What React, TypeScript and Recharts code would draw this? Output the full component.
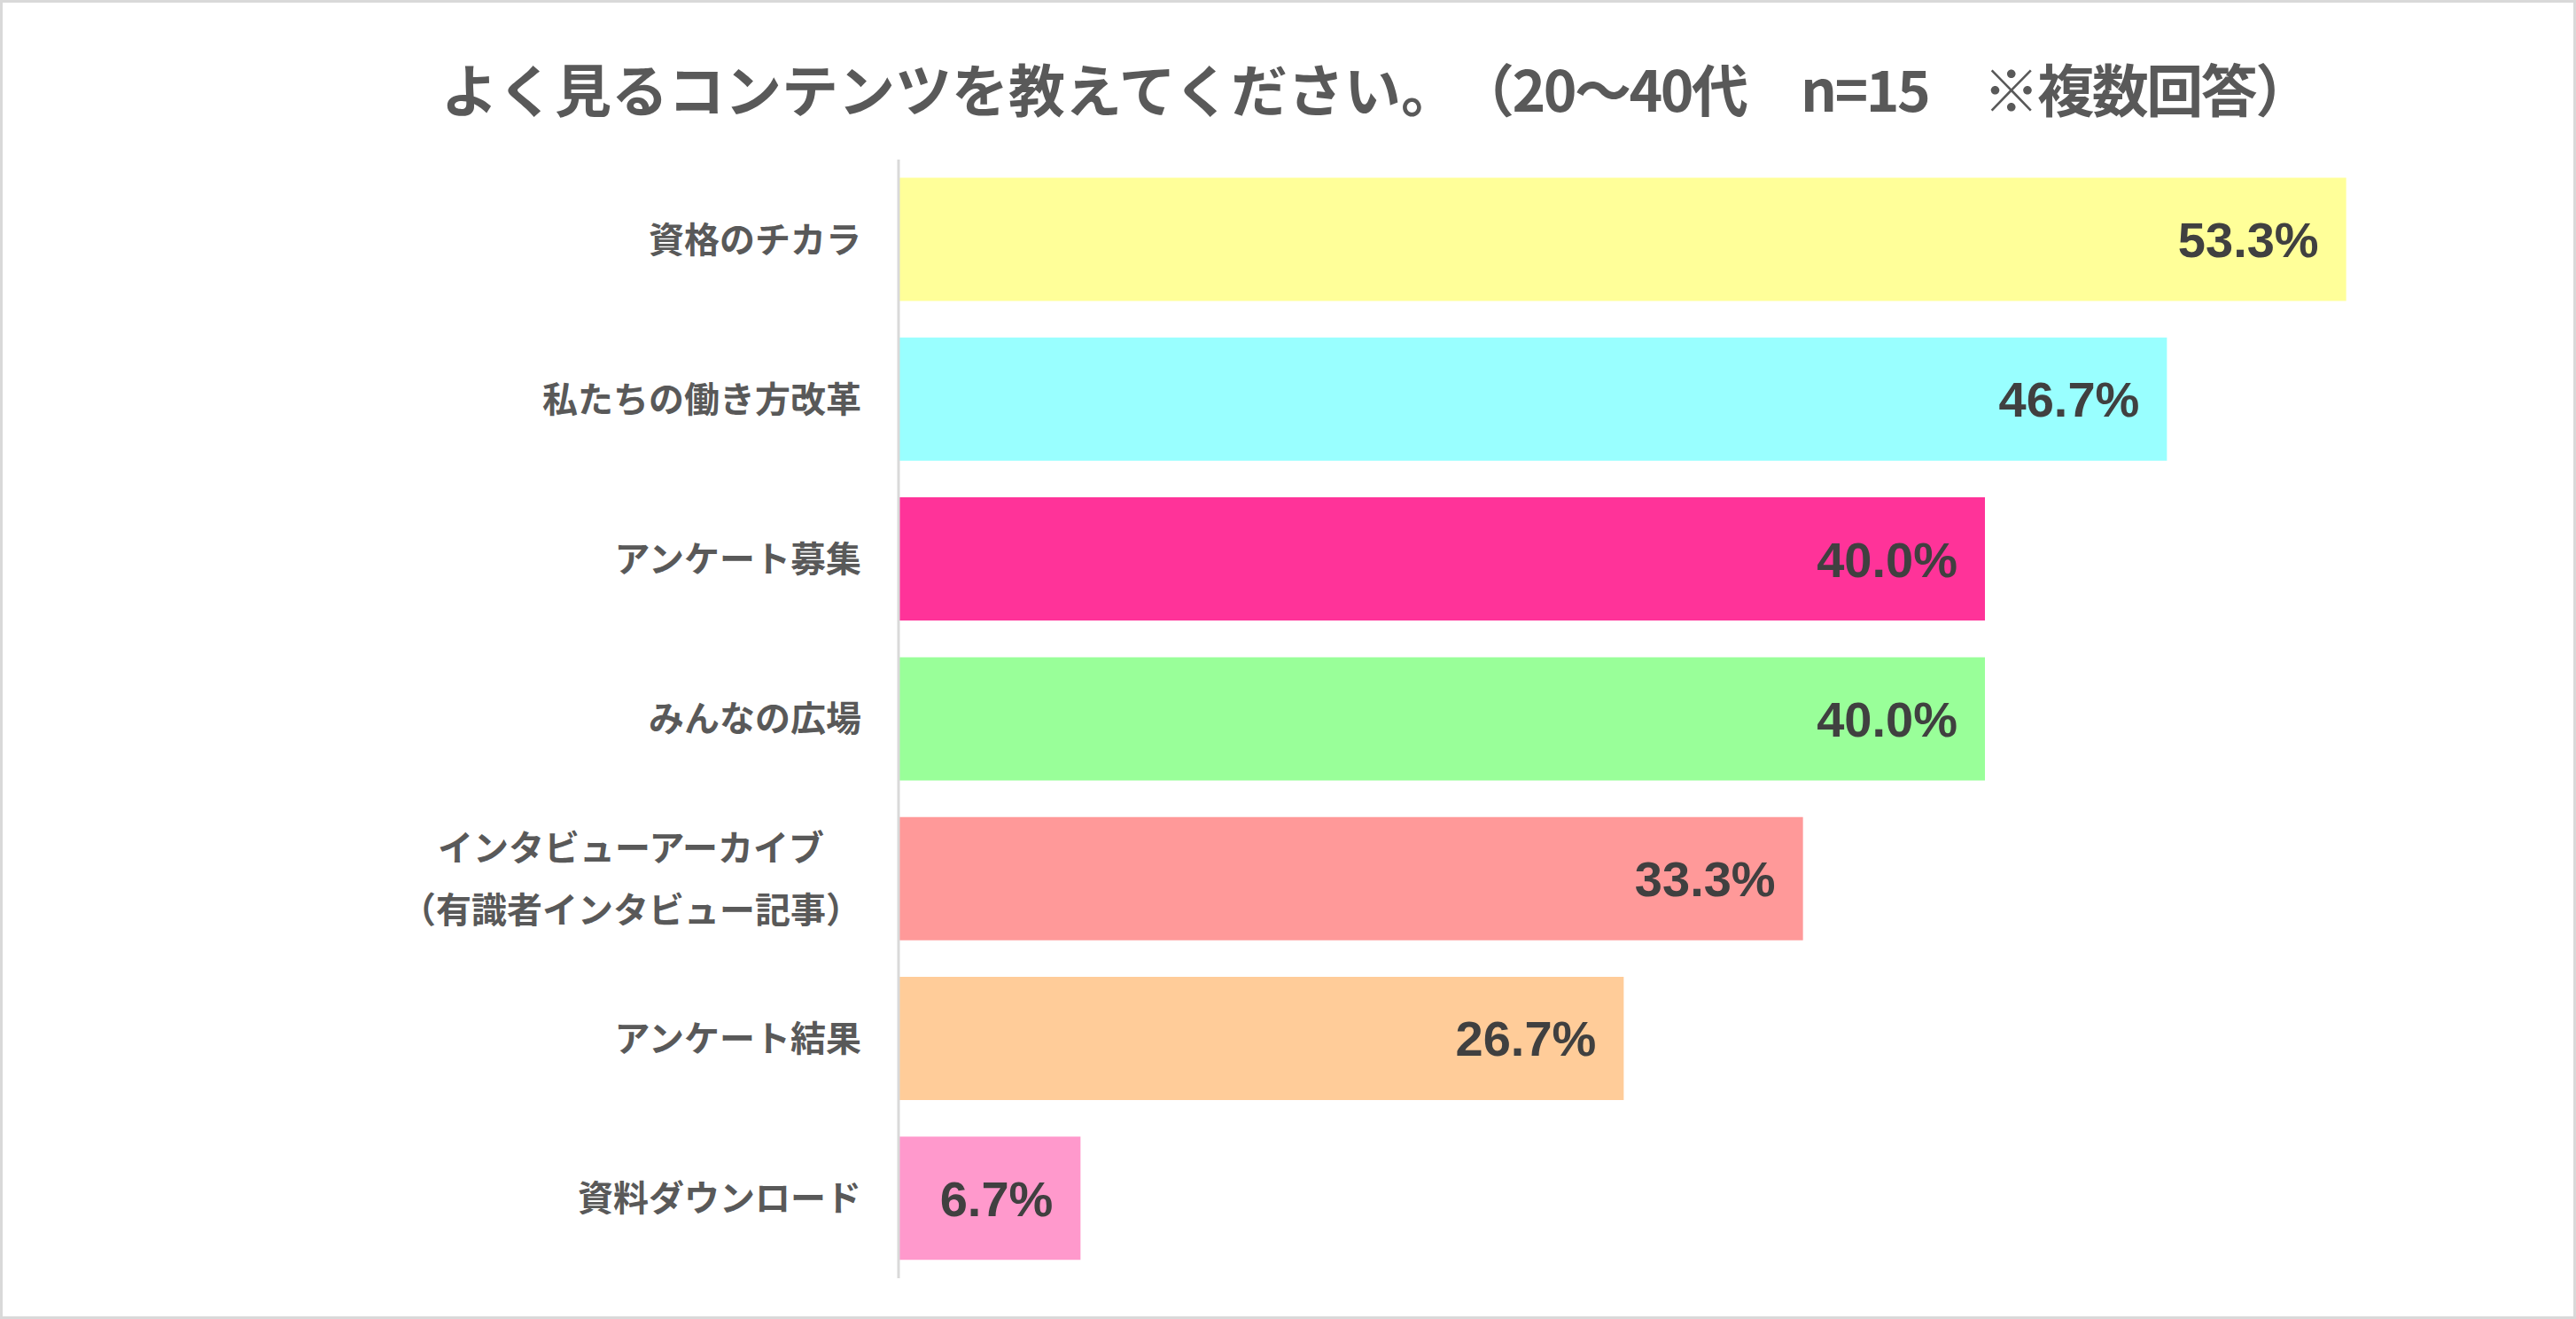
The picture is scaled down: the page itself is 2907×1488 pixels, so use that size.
import { BarChart, Bar, XAxis, YAxis, Cell, LabelList } from "recharts";

const CATEGORIES = [
  "資格のチカラ",
  "私たちの働き方改革",
  "アンケート募集",
  "みんなの広場",
  "インタビューアーカイブ\n（有識者インタビュー記事）",
  "アンケート結果",
  "資料ダウンロード",
];
const VALUES = [53.3, 46.7, 40.0, 40.0, 33.3, 26.7, 6.7];
const COLORS = ["#FFFF99", "#99FFFF", "#FF3399", "#99FF99", "#FF9999", "#FFCC99", "#FF99CC"];
const X_DOMAIN = [0, 60];
const TITLE = "よく見るコンテンツを教えてください。";
const TITLE_NOTE = "（20〜40代　n=15　※複数回答）";

const data = CATEGORIES.map((name, i) => ({ name, value: VALUES[i] }));

const JP_FONT = '"Noto Sans CJK JP", "Noto Sans", sans-serif';
const TICK_SIZE = 40;
const LINE_GAP = 70;

function CategoryTick({ x, y, payload }: any) {
  const lines = String(payload.value).split("\n");
  const common = {
    fill: "#595959",
    fontSize: TICK_SIZE,
    fontWeight: 700,
    fontFamily: JP_FONT,
  };
  if (lines.length === 1) {
    return (
      <text x={x} y={y} dy="0.36em" textAnchor="end" {...common}>
        {lines[0]}
      </text>
    );
  }
  // multi-line labels are centred on the widest line, like Excel does
  const longest = Math.max(...lines.map((l) => l.length));
  const cx = x - (longest * TICK_SIZE) / 2;
  return (
    <text textAnchor="middle" {...common}>
      {lines.map((l, i) => (
        <tspan key={i} x={cx} y={y + (i - (lines.length - 1) / 2) * LINE_GAP} dy="0.36em">
          {l}
        </tspan>
      ))}
    </text>
  );
}

export default function App() {
  return (
    <div style={{ position: "absolute", left: 0, top: 0, width: 2907, height: 1488, background: "#fff" }}>
      <div
        style={{
          position: "absolute",
          left: 498,
          top: 66,
          whiteSpace: "pre",
          fontFamily: JP_FONT,
          fontWeight: 700,
          fontSize: 64,
          lineHeight: "64px",
          color: "#595959",
          textSpacingTrim: "space-all",
        } as any}
      >
        {TITLE}
        <span style={{ letterSpacing: "-2.5px" }}>{TITLE_NOTE}</span>
      </div>
      <div style={{ position: "absolute", left: 0, top: 0 }}>
        <BarChart
          width={2907}
          height={1488}
          data={data}
          layout="vertical"
          barCategoryGap="11.4%"
          margin={{ top: 180, right: 54, bottom: 46, left: 0 }}
        >
          <XAxis type="number" domain={X_DOMAIN} hide />
          <YAxis
            type="category"
            dataKey="name"
            width={1014}
            axisLine={{ stroke: "#D9D9D9", strokeWidth: 3 }}
            tickLine={false}
            tickSize={0}
            tickMargin={42}
            interval={0}
            tick={<CategoryTick />}
          />
          <Bar dataKey="value" isAnimationActive={false}>
            {data.map((_, i) => (
              <Cell key={i} fill={COLORS[i]} />
            ))}
            <LabelList
              dataKey="value"
              position="insideRight"
              offset={31}
              formatter={(v: any) => Number(v).toFixed(1) + "%"}
              fill="#404040"
              fontSize={56}
              fontWeight={700}
              fontFamily='"Liberation Sans", Arial, sans-serif'
            />
          </Bar>
        </BarChart>
      </div>
      <div
        style={{
          position: "absolute",
          inset: 0,
          boxSizing: "border-box",
          border: "3px solid #D9D9D9",
          pointerEvents: "none",
        }}
      />
    </div>
  );
}
